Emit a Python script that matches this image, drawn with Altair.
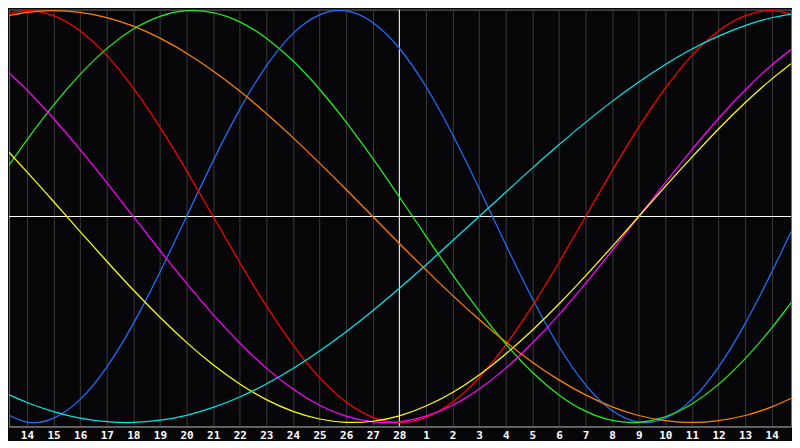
import altair as alt
import pandas as pd

# day positions (-1 and 29 lie just outside the visible window)
day_index = [-1, 0, 1, 2, 3, 4, 5, 6, 7, 8, 9, 10, 11, 12, 13, 14, 15,
             16, 17, 18, 19, 20, 21, 22, 23, 24, 25, 26, 27, 28, 29]

# tick labels for day positions 0..28
tick_labels = ["14", "15", "16", "17", "18", "19", "20", "21", "22", "23",
               "24", "25", "26", "27", "28", "1", "2", "3", "4", "5", "6",
               "7", "8", "9", "10", "11", "12", "13", "14"]

physical = [-0.942, -0.998, -0.979, -0.888, -0.731, -0.520, -0.270, 0.0,
            0.270, 0.520, 0.731, 0.888, 0.979, 0.998, 0.942, 0.817, 0.631,
            0.398, 0.136, -0.136, -0.398, -0.631, -0.817, -0.942, -0.998,
            -0.979, -0.888, -0.731, -0.520, -0.270, 0.0]
emotional = [0.975, 1.0, 0.975, 0.901, 0.782, 0.623, 0.434, 0.223, 0.0,
             -0.223, -0.434, -0.623, -0.782, -0.901, -0.975, -1.0, -0.975,
             -0.901, -0.782, -0.623, -0.434, -0.223, 0.0, 0.223, 0.434,
             0.623, 0.782, 0.901, 0.975, 1.0, 0.975]
intellectual = [0.189, 0.372, 0.541, 0.690, 0.815, 0.910, 0.972, 0.999,
                0.990, 0.945, 0.866, 0.756, 0.618, 0.458, 0.282, 0.095,
                -0.095, -0.282, -0.458, -0.618, -0.756, -0.866, -0.945,
                -0.990, -0.999, -0.972, -0.910, -0.815, -0.690, -0.541,
                -0.372]
intuitive = [0.736, 0.614, 0.476, 0.325, 0.165, 0.0, -0.165, -0.325, -0.476,
             -0.614, -0.736, -0.837, -0.916, -0.969, -0.997, -0.997, -0.969,
             -0.916, -0.837, -0.736, -0.614, -0.476, -0.325, -0.165, 0.0,
             0.165, 0.325, 0.476, 0.614, 0.736, 0.837]
aesthetic = [0.357, 0.217, 0.073, -0.073, -0.217, -0.357, -0.489, -0.611,
             -0.720, -0.813, -0.889, -0.946, -0.983, -0.999, -0.994, -0.968,
             -0.920, -0.854, -0.769, -0.667, -0.552, -0.425, -0.288, -0.146,
             0.0, 0.146, 0.288, 0.425, 0.552, 0.667, 0.769]
awareness = [0.966, 0.991, 1.0, 0.991, 0.966, 0.924, 0.866, 0.793, 0.707,
             0.609, 0.5, 0.383, 0.259, 0.131, 0.0, -0.131, -0.259, -0.383,
             -0.5, -0.609, -0.707, -0.793, -0.866, -0.924, -0.966, -0.991,
             -1.0, -0.991, -0.966, -0.924, -0.866]
spiritual = [-0.846, -0.903, -0.947, -0.979, -0.996, -1.0, -0.989, -0.965,
             -0.927, -0.876, -0.813, -0.738, -0.653, -0.559, -0.457, -0.348,
             -0.235, -0.118, 0.0, 0.118, 0.235, 0.348, 0.457, 0.559, 0.653,
             0.738, 0.813, 0.876, 0.927, 0.965, 0.989]

series_names = ["Physical", "Emotional", "Intellectual", "Intuitive",
                "Aesthetic", "Awareness", "Spiritual"]
series_values = [physical, emotional, intellectual, intuitive, aesthetic,
                 awareness, spiritual]
series_colors = ["#1f6fff", "#ff0000", "#22ee22", "#ff00ff", "#ffff00",
                 "#ff8000", "#00e6e6"]

rows = []
for name, vals in zip(series_names, series_values):
    for d, v in zip(day_index, vals):
        rows.append({"day": d, "value": v, "cycle": name})
df = pd.DataFrame(rows)

label_expr = "[" + ",".join("'%s'" % t for t in tick_labels) + "][datum.value]"

x_scale = alt.Scale(domain=[-0.675, 28.725], nice=False, zero=False)
y_scale = alt.Scale(domain=[-1.0194, 1.0048], nice=False, zero=False)

x_axis = alt.Axis(
    values=list(range(len(tick_labels))),
    labelExpr=label_expr,
    grid=True, gridColor="#3a3a3a", gridWidth=1,
    ticks=False,
    domainColor="#8c8c8c", domainWidth=1,
    labelColor="#ffffff", labelFont="DejaVu Sans Mono",
    labelFontSize=11, labelFontWeight="bold", labelPadding=3,
    labelFlush=False, labelOverlap=False, title=None,
)

hline = alt.Chart(pd.DataFrame({"value": [0]})).mark_rule(
    color="#ffffff", strokeWidth=1
).encode(y=alt.Y("value:Q", scale=y_scale, axis=None))

vline = alt.Chart(pd.DataFrame({"day": [14]})).mark_rule(
    color="#ffffff", strokeWidth=1
).encode(x=alt.X("day:Q", scale=x_scale, axis=x_axis))

lines = alt.Chart(df).mark_line(
    strokeWidth=1.25, clip=True, interpolate="natural"
).encode(
    x=alt.X("day:Q", scale=x_scale, axis=x_axis),
    y=alt.Y("value:Q", scale=y_scale, axis=None),
    color=alt.Color("cycle:N", scale=alt.Scale(domain=series_names,
                                              range=series_colors),
                    legend=None),
)

chart = alt.layer(hline, vline, lines).properties(
    width=784, height=418, background="#060609", padding=0
).configure_view(stroke="#6e6e6e", strokeWidth=1)

chart.save("out.html", embed_options={"renderer": "svg", "actions": False})
